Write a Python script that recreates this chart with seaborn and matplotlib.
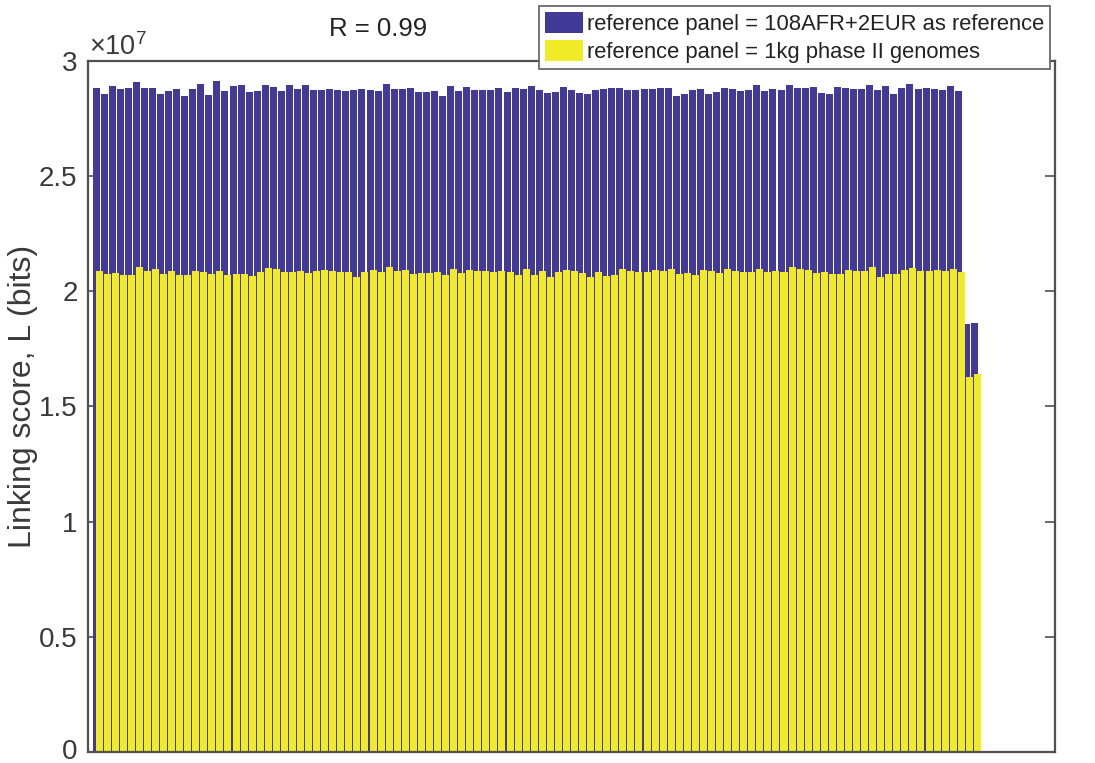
import numpy as np
import pandas as pd
import matplotlib
matplotlib.use("Agg")
import matplotlib.pyplot as plt
import matplotlib.transforms as mtransforms
import seaborn as sns
from matplotlib.patches import Patch

# Linking score per sample, in units of 1e7 bits
sample_ids = list(range(1, 111))
score_108afr_2eur = [
    2.883, 2.857, 2.892, 2.879, 2.883, 2.909, 2.883, 2.883, 2.857, 2.870,
    2.879, 2.849, 2.879, 2.901, 2.853, 2.914, 2.870, 2.892, 2.896, 2.866,
    2.870, 2.896, 2.888, 2.870, 2.896, 2.879, 2.896, 2.875, 2.875, 2.879,
    2.875, 2.870, 2.875, 2.879, 2.875, 2.870, 2.901, 2.879, 2.879, 2.883,
    2.866, 2.866, 2.870, 2.849, 2.892, 2.870, 2.888, 2.875, 2.875, 2.875,
    2.883, 2.866, 2.883, 2.879, 2.892, 2.875, 2.862, 2.866, 2.888, 2.875,
    2.862, 2.857, 2.875, 2.879, 2.883, 2.883, 2.875, 2.875, 2.879, 2.879,
    2.883, 2.883, 2.849, 2.857, 2.875, 2.879, 2.857, 2.866, 2.883, 2.879,
    2.870, 2.875, 2.896, 2.870, 2.879, 2.875, 2.896, 2.883, 2.883, 2.888,
    2.862, 2.857, 2.888, 2.883, 2.879, 2.879, 2.896, 2.875, 2.892, 2.857,
    2.883, 2.901, 2.879, 2.883, 2.879, 2.875, 2.892, 2.870, 1.858, 1.863,
]
score_1kg_phase2 = [
    2.088, 2.075, 2.080, 2.071, 2.071, 2.106, 2.088, 2.097, 2.075, 2.088,
    2.071, 2.071, 2.088, 2.084, 2.075, 2.088, 2.071, 2.075, 2.075, 2.067,
    2.084, 2.101, 2.097, 2.084, 2.084, 2.088, 2.080, 2.088, 2.093, 2.088,
    2.084, 2.084, 2.062, 2.084, 2.093, 2.084, 2.106, 2.088, 2.093, 2.075,
    2.080, 2.080, 2.084, 2.071, 2.097, 2.080, 2.093, 2.088, 2.088, 2.084,
    2.088, 2.084, 2.071, 2.097, 2.071, 2.088, 2.062, 2.084, 2.093, 2.088,
    2.080, 2.062, 2.084, 2.067, 2.071, 2.097, 2.088, 2.084, 2.084, 2.093,
    2.088, 2.097, 2.075, 2.080, 2.071, 2.093, 2.088, 2.080, 2.097, 2.088,
    2.084, 2.084, 2.097, 2.084, 2.088, 2.084, 2.106, 2.097, 2.093, 2.080,
    2.084, 2.075, 2.075, 2.093, 2.088, 2.088, 2.106, 2.062, 2.075, 2.075,
    2.093, 2.101, 2.088, 2.088, 2.093, 2.088, 2.097, 2.084, 1.628, 1.641,
]
series_labels = [
    "reference panel = 108AFR+2EUR as reference",
    "reference panel = 1kg phase II genomes",
]
ytick_values = [0, 0.5e7, 1.0e7, 1.5e7, 2.0e7, 2.5e7, 3.0e7]
ytick_labels = ["0", "0.5", "1", "1.5", "2", "2.5", "3"]
title_text = "R = 0.99"
ylabel_text = "Linking score, L (bits)"

BLUE = "#433996"
YELLOW = "#F1EA26"
AXIS_GREY = "#505050"
TEXT_GREY = "#3a3a3a"

sns.set_theme(style="white")
plt.rcParams["font.family"] = ["Liberation Sans", "DejaVu Sans"]

W, H = 1095, 763
fig = plt.figure(figsize=(W / 100, H / 100), dpi=100)
ax = fig.add_axes([88 / W, 1 - 752 / H, (1055 - 88) / W, (752 - 61) / H])

df = pd.DataFrame({
    "sample": sample_ids,
    "afr_eur": np.array(score_108afr_2eur) * 1e7,
    "kg2": np.array(score_1kg_phase2) * 1e7,
})
df["sample_shifted"] = df["sample"] + 0.37

sns.barplot(data=df, x="sample", y="afr_eur", native_scale=True, width=0.87,
            color=BLUE, saturation=1, linewidth=0, errorbar=None, ax=ax)
sns.barplot(data=df, x="sample_shifted", y="kg2", native_scale=True, width=0.87,
            color=YELLOW, saturation=1, linewidth=0, errorbar=None, ax=ax)

ax.set_xlim(0, 120)
ax.set_ylim(0, 3e7)
ax.set_xticks([])
ax.set_yticks(ytick_values)
ax.set_yticklabels(ytick_labels)
ax.set_xlabel("")
ax.set_ylabel("")
ax.tick_params(axis="y", direction="in", length=7, width=1.2, left=True, right=True,
               labelsize=20, pad=7.5, color=AXIS_GREY, labelcolor=TEXT_GREY)
for side in ["left", "right", "top", "bottom"]:
    ax.spines[side].set_visible(True)
    ax.spines[side].set_color(AXIS_GREY)
    ax.spines[side].set_linewidth(1.6)

# nudge the bottom tick label up so it stays inside the canvas
zero_label = ax.yaxis.get_major_ticks()[0].label1
zero_label.set_transform(zero_label.get_transform()
                         + mtransforms.ScaledTranslation(0, 3 / 100, fig.dpi_scale_trans))

fig.text(23 / W, 1 - 396 / H, ylabel_text, rotation=90, ha="center", va="center",
         fontsize=23, color=TEXT_GREY)
fig.text(378 / W, 1 - 29 / H, title_text, ha="center", va="center",
         fontsize=18.5, color="#222222")
fig.text(89 / W, 1 - 55 / H, r"$\mathregular{\times10^{7}}$", ha="left", va="baseline",
         fontsize=19.5, color=TEXT_GREY)

handles = [Patch(facecolor=BLUE, edgecolor="none"), Patch(facecolor=YELLOW, edgecolor="none")]
leg = fig.legend(handles, series_labels, loc="upper right",
                 bbox_to_anchor=(1050 / W, 1 - 6 / H), fontsize=15.8, frameon=True,
                 fancybox=False, framealpha=1, edgecolor="#6a6a6a", borderaxespad=0,
                 handlelength=1.75, handleheight=1.12, handletextpad=0.15,
                 borderpad=0.28, labelspacing=0.2)
leg.get_frame().set_linewidth(1.3)
for t in leg.get_texts():
    t.set_color("#222222")

fig.savefig("out.png", dpi=100, facecolor="white")
